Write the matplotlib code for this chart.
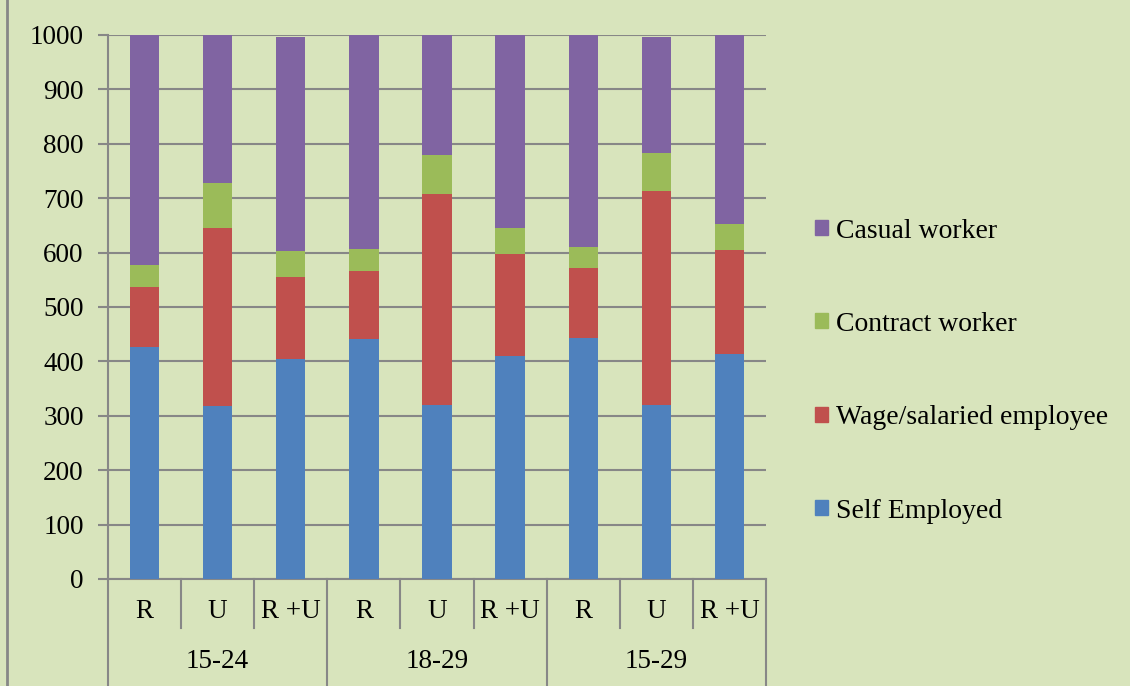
import matplotlib
matplotlib.use("Agg")
import matplotlib.pyplot as plt
from matplotlib.patches import Patch
from matplotlib.lines import Line2D
import numpy as np

groups = ["15-24", "18-29", "15-29"]
subcats = ["R", "U", "R +U"]
series = ["Self Employed", "Wage/salaried employee", "Contract worker", "Casual worker"]
self_employed = [426, 318, 404, 441, 320, 410, 443, 320, 414]
wage_salaried = [111, 327, 151, 125, 388, 187, 129, 393, 191]
contract_worker = [40, 83, 48, 41, 71, 48, 38, 70, 48]
casual_worker = [423, 272, 393, 393, 221, 355, 390, 213, 347]
colors = ["#4F81BD", "#C0504D", "#9BBB59", "#8064A2"]
bg = "#D8E4BC"
grid_c = "#878787"

plt.rcParams['font.family'] = ['Liberation Serif', 'DejaVu Serif']
fig = plt.figure(figsize=(11.3, 6.86), dpi=100, facecolor=bg)
W, H = 1130, 686
x0, x1, y0, y1 = 108, 766, 579, 35
ax = fig.add_axes([x0 / W, 1 - y0 / H, (x1 - x0) / W, (y0 - y1) / H])
ax.set_facecolor(bg)

# chart-area border on the left
fig.add_artist(Line2D([6.5 / W, 6.5 / W], [0, 1], color=grid_c, lw=2, transform=fig.transFigure))

data = [self_employed, wage_salaried, contract_worker, casual_worker]
n = len(self_employed)
x = np.arange(n)
bottom = np.zeros(n)
for vals, c, lab in zip(data, colors, series):
    ax.bar(x, vals, 0.4, bottom=bottom, color=c, label=lab, zorder=3)
    bottom += np.array(vals)

fs = 19.5
ax.set_xlim(-0.5, n - 0.5)
ax.set_ylim(0, 1000)
ax.set_yticks(range(0, 1001, 100))
ax.tick_params(axis='y', labelsize=fs, length=7, color=grid_c, width=1.5, pad=10.5)
for lbl in ax.get_yticklabels():
    lbl.set_family(['Liberation Serif', 'DejaVu Serif'])
ax.tick_params(axis='x', length=0, labelbottom=False)
ax.yaxis.grid(True, color=grid_c, linewidth=1.5, zorder=0)
for s in ['top', 'right']:
    ax.spines[s].set_visible(False)
ax.spines['left'].set_color(grid_c)
ax.spines['left'].set_linewidth(1.5)
ax.spines['bottom'].set_color(grid_c)
ax.spines['bottom'].set_linewidth(1.5)

# two-level category axis
trans = ax.get_xaxis_transform()
sub_y = -(611 - y0) / (y0 - y1)
grp_y = -(662 - y0) / (y0 - y1)
sep_sub = -(628 - y0) / (y0 - y1)
sep_grp = -(H - y0) / (y0 - y1)
for i in range(n):
    ax.text(i, sub_y, subcats[i % 3], transform=trans, ha='center', va='center', fontsize=fs)
for g, name in enumerate(groups):
    ax.text(3 * g + 1, grp_y, name, transform=trans, ha='center', va='center', fontsize=fs)
for k in range(n + 1):
    b = k - 0.5
    end = sep_grp if k % 3 == 0 else sep_sub
    ax.plot([b, b], [0, end], transform=trans, color=grid_c, lw=1.5, clip_on=False)

handles = [Patch(color=c) for c in colors]
leg = fig.legend(handles[::-1], series[::-1], loc='center left',
                 bbox_to_anchor=(815 / W, 1 - 371 / H), frameon=False, fontsize=20,
                 handlelength=0.45, handleheight=0.45, handletextpad=0.3,
                 labelspacing=2.46, borderpad=0, borderaxespad=0)

fig.savefig("out.png", dpi=100, facecolor=bg)
